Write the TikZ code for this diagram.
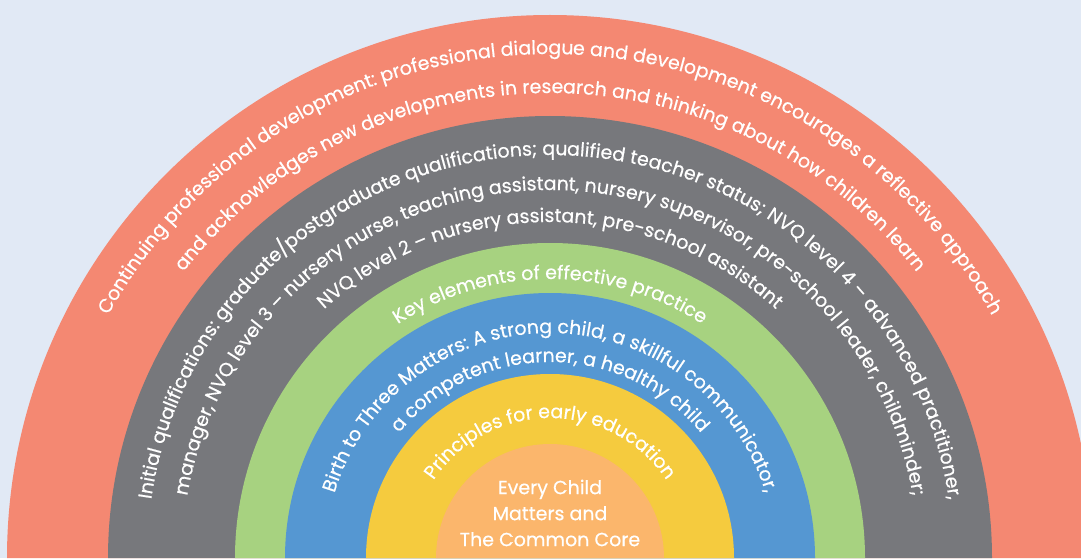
\documentclass[tikz,border=0pt]{standalone}
\usepackage{fontspec}
\setmainfont{Poppins}[FakeBold=0.5]
\usetikzlibrary{decorations.text}
\definecolor{bg}{HTML}{E1E9F5}
\definecolor{salmon}{HTML}{F48872}
\definecolor{slate}{HTML}{77787C}
\definecolor{leaf}{HTML}{A7D280}
\definecolor{sky}{HTML}{5597D2}
\definecolor{sun}{HTML}{F5CB3E}
\definecolor{peach}{HTML}{FBB66C}
\newcommand{\ringfont}{\fontsize{19}{19}\selectfont\color{white}}
\tikzset{
  band/.style={fill=#1},
  ringtext/.style={decorate, decoration={text along path, text align=center, text={|\ringfont|#1}}}
}
\begin{document}
\begin{tikzpicture}[x=1pt,y=1pt]
\useasboundingbox (0,0) rectangle (1081,558);
\clip (0,0) rectangle (1081,558);
\fill[bg] (0,0) rectangle (1081,558);
\coordinate (C) at (550,0);
% bands
\fill[band=salmon] ([shift={(0:543)}]C) arc[start angle=0,end angle=180,radius=543] -- cycle;
\fill[band=slate]  ([shift={(0:442)}]C) arc[start angle=0,end angle=180,radius=442] -- cycle;
\fill[band=leaf]   ([shift={(0:315)}]C) arc[start angle=0,end angle=180,radius=315] -- cycle;
\fill[band=sky]    ([shift={(0:265)}]C) arc[start angle=0,end angle=180,radius=265] -- cycle;
\fill[band=sun]    ([shift={(0:184)}]C) arc[start angle=0,end angle=180,radius=184] -- cycle;
\fill[band=peach]  ([shift={(0:114)}]C) arc[start angle=0,end angle=180,radius=114] -- cycle;
% ring texts
\path[ringtext={Continuing professional development: professional dialogue and development encourages a reflective approach}]
  ([shift={(178:504)}]C) arc[start angle=178,end angle=2,radius=504];
\path[ringtext={and acknowledges new developments in research and thinking about how children learn}]
  ([shift={(178:465)}]C) arc[start angle=178,end angle=2,radius=465];
\path[ringtext={Initial qualifications: graduate/postgraduate qualifications; qualified teacher status; NVQ level 4 – advanced practitioner,}]
  ([shift={(178:403)}]C) arc[start angle=178,end angle=2,radius=403];
\path[ringtext={manager, NVQ level 3 – nursery nurse, teaching assistant, nursery supervisor, pre-school leader, childminder;}]
  ([shift={(178:368)}]C) arc[start angle=178,end angle=2,radius=368];
\path[ringtext={NVQ level 2 – nursery assistant, pre-school assistant}]
  ([shift={(178:336)}]C) arc[start angle=178,end angle=2,radius=336];
\path[ringtext={Key elements of effective practice}]
  ([shift={(178:279)}]C) arc[start angle=178,end angle=2,radius=279];
\path[ringtext={Birth to Three Matters: A strong child, a skillful communicator,}]
  ([shift={(178:225)}]C) arc[start angle=178,end angle=2,radius=225];
\path[ringtext={a competent learner, a healthy child}]
  ([shift={(178:196)}]C) arc[start angle=178,end angle=2,radius=196];
\path[ringtext={Principles for early education}]
  ([shift={(178:140)}]C) arc[start angle=178,end angle=2,radius=140];
% centre
\node[text=white, align=center, font=\fontsize{19}{26}\selectfont] (core) at (550,45) {Every Child\\Matters and\\The Common Core};
\end{tikzpicture}
\end{document}
